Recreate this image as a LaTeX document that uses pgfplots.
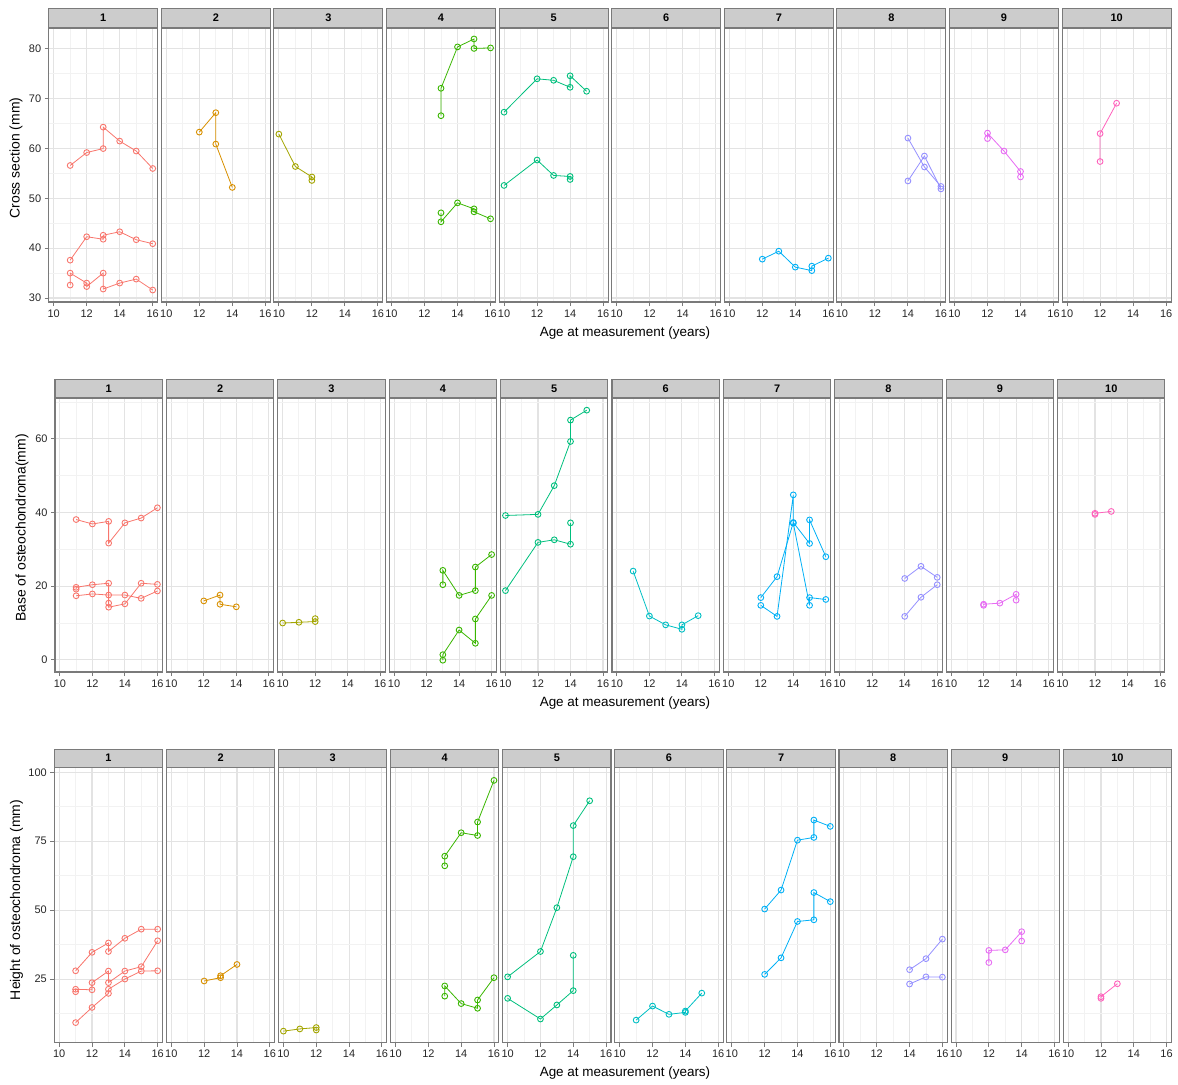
\documentclass[border=0pt]{standalone}
\usepackage{fontspec}
\setmainfont{Liberation Sans}
\usepackage{pgfplots}
\pgfplotsset{compat=1.18}
\definecolor{c1}{HTML}{F8766D}
\definecolor{c2}{HTML}{D89000}
\definecolor{c3}{HTML}{A3A500}
\definecolor{c4}{HTML}{39B600}
\definecolor{c5}{HTML}{00BF7D}
\definecolor{c6}{HTML}{00BFC4}
\definecolor{c7}{HTML}{00B0F6}
\definecolor{c8}{HTML}{9590FF}
\definecolor{c9}{HTML}{E76BF3}
\definecolor{c10}{HTML}{FF62BC}
\definecolor{bord}{HTML}{7A7A7A}
\definecolor{stripf}{HTML}{CCCCCC}
\definecolor{gmaj}{HTML}{E3E3E3}
\definecolor{gmin}{HTML}{F2F2F2}
\pgfplotsset{
  base/.style={
    scale only axis, anchor=north west,
    xmin=9.7, xmax=16.3, xtick={10,12,14,16}, minor xtick={11,13,15},
    grid=both,
    major grid style={color=gmaj, line width=1.1bp},
    minor grid style={color=gmin, line width=0.9bp},
    axis line style={color=bord, line width=1.1bp},
    tick align=outside, xtick pos=bottom, ytick pos=left,
    major tick length=4bp, minor tick length=0pt,
    tick style={color=bord, line width=0.9bp},
    /pgf/number format/assume math mode=true,
    ticklabel style={font=\fontsize{11}{12}\selectfont, text=black!85},
    every axis title/.style={at={(0.5,1)}, anchor=south, fill=stripf, draw=bord, line width=1.1bp, inner sep=0pt, font=\bfseries\fontsize{11}{13}\selectfont},
  },
  row1/.style={base, width=109bp, height=274bp, ymin=29.2, ymax=84.2, ytick={30,40,50,60,70,80}, minor ytick={35,45,55,65,75}, title style={minimum width=109bp, minimum height=19bp}},
  row2/.style={base, width=107.3bp, height=274bp, ymin=-3.3, ymax=71.1, ytick={0,20,40,60}, minor ytick={10,30,50,70}, title style={minimum width=107.3bp, minimum height=18bp}},
  row3/.style={base, width=108.3bp, height=275bp, ymin=1.9, ymax=101.7, ytick={25,50,75,100}, minor ytick={12.5,37.5,62.5,87.5}, title style={minimum width=108.3bp, minimum height=18bp}},
  noy/.style={yticklabels={}, ytick style={draw=none}},
  dat/.style={mark=o, mark size=2.9bp, line width=0.8bp, mark options={line width=0.9bp, solid}},
}
\newcommand{\pnl}[5]{\begin{axis}[#1, at={(#2bp,-#3bp)}, title={#4}]#5\end{axis}}
\begin{document}
\begin{tikzpicture}
\useasboundingbox (0,0) rectangle (1178bp,-1085bp);
% ---------- Row 1: Cross section ----------
\pnl{row1}{48.7}{28}{1}{
\addplot[dat,c1] coordinates {(11,56.6)(12,59.2)(13,60.0)(13,64.3)(14,61.5)(15,59.5)(16,56.0)};
\addplot[dat,c1] coordinates {(11,37.6)(12,42.3)(13,41.8)(13,42.6)(14,43.3)(15,41.7)(16,40.9)};
\addplot[dat,c1] coordinates {(11,32.6)(11,35.0)(12,33.0)(12,32.3)(13,35.0)(13,31.8)(14,33.0)(15,33.8)(16,31.6)};
}
\pnl{row1,noy}{161.3}{28}{2}{
\addplot[dat,c2] coordinates {(12,63.3)(13,67.2)(13,60.9)(14,52.2)};
}
\pnl{row1,noy}{273.9}{28}{3}{
\addplot[dat,c3] coordinates {(10,62.9)(11,56.4)(12,54.3)(12,53.6)};
}
\pnl{row1,noy}{386.5}{28}{4}{
\addplot[dat,c4] coordinates {(13,66.6)(13,72.1)(14,80.4)(15,82.0)(15,80.1)(16,80.2)};
\addplot[dat,c4] coordinates {(13,47.1)(13,45.3)(14,49.1)(15,47.9)(15,47.3)(16,45.9)};
}
\pnl{row1,noy}{499.1}{28}{5}{
\addplot[dat,c5] coordinates {(10,67.3)(12,74.0)(13,73.7)(14,72.3)(14,74.6)(15,71.5)};
\addplot[dat,c5] coordinates {(10,52.6)(12,57.7)(13,54.6)(14,54.4)(14,53.8)};
}
\pnl{row1,noy}{611.7}{28}{6}{}
\pnl{row1,noy}{724.3}{28}{7}{
\addplot[dat,c7] coordinates {(12,37.8)(13,39.4)(14,36.2)(15,35.5)(15,36.4)(16,38.0)};
}
\pnl{row1,noy}{836.9}{28}{8}{
\addplot[dat,c8] coordinates {(14,62.1)(15,56.3)(16,52.4)};
\addplot[dat,c8] coordinates {(14,53.5)(15,58.5)(16,51.9)};
}
\pnl{row1,noy}{949.5}{28}{9}{
\addplot[dat,c9] coordinates {(12,62.0)(12,63.1)(13,59.5)(14,55.4)(14,54.3)};
}
\pnl{row1,noy}{1062.1}{28}{10}{
\addplot[dat,c10] coordinates {(12,57.4)(12,63.0)(13,69.1)};
}
% ---------- Row 2: Base ----------
\pnl{row2}{55}{398}{1}{
\addplot[dat,c1] coordinates {(11,38.1)(12,36.9)(13,37.6)(13,31.7)(14,37.2)(15,38.5)(16,41.3)};
\addplot[dat,c1] coordinates {(11,19.2)(11,19.7)(12,20.4)(13,20.8)(13,15.4)(13,14.3)(14,15.2)(15,20.8)(16,20.5)};
\addplot[dat,c1] coordinates {(11,17.4)(12,17.9)(13,17.6)(14,17.6)(15,16.7)(16,18.7)};
}
\pnl{row2,noy}{166.4}{398}{2}{
\addplot[dat,c2] coordinates {(12,16.0)(13,17.6)(13,15.1)(14,14.4)};
}
\pnl{row2,noy}{277.8}{398}{3}{
\addplot[dat,c3] coordinates {(10,10.0)(11,10.2)(12,10.4)(12,11.2)};
}
\pnl{row2,noy}{389.2}{398}{4}{
\addplot[dat,c4] coordinates {(13,20.4)(13,24.3)(14,17.5)(15,18.8)(15,25.2)(16,28.6)};
\addplot[dat,c4] coordinates {(13,-0.1)(13,1.4)(14,8.1)(15,4.5)(15,11.1)(16,17.5)};
}
\pnl{row2,noy}{500.6}{398}{5}{
\addplot[dat,c5] coordinates {(10,39.2)(12,39.5)(13,47.3)(14,59.3)(14,65.1)(15,67.8)};
\addplot[dat,c5] coordinates {(10,18.8)(12,31.9)(13,32.6)(14,31.4)(14,37.2)};
}
\pnl{row2,noy}{612}{398}{6}{
\addplot[dat,c6] coordinates {(11,24.1)(12,11.9)(13,9.5)(14,8.3)(14,9.5)(15,12.0)};
}
\pnl{row2,noy}{723.4}{398}{7}{
\addplot[dat,c7] coordinates {(12,16.9)(13,22.6)(14,37.3)(15,31.6)(15,38.0)(16,28.0)};
\addplot[dat,c7] coordinates {(12,14.8)(13,11.8)(14,44.8)(14,37.1)(15,14.8)(15,16.9)(16,16.4)};
}
\pnl{row2,noy}{834.8}{398}{8}{
\addplot[dat,c8] coordinates {(14,22.1)(15,25.4)(16,22.4)};
\addplot[dat,c8] coordinates {(14,11.8)(15,17.0)(16,20.4)};
}
\pnl{row2,noy}{946.2}{398}{9}{
\addplot[dat,c9] coordinates {(12,14.8)(12,15.1)(13,15.4)(14,17.8)(14,16.2)};
}
\pnl{row2,noy}{1057.6}{398}{10}{
\addplot[dat,c10] coordinates {(12,39.5)(12,39.8)(13,40.3)};
}
% ---------- Row 3: Height ----------
\pnl{row3}{54.3}{767.7}{1}{
\addplot[dat,c1] coordinates {(11,28.0)(12,34.7)(13,38.1)(13,35.0)(14,39.8)(15,43.1)(16,43.1)};
\addplot[dat,c1] coordinates {(11,20.4)(11,21.3)(12,21.1)(12,23.7)(13,27.9)(13,23.7)(14,27.9)(15,29.5)(16,38.9)};
\addplot[dat,c1] coordinates {(11,9.2)(12,14.7)(13,19.8)(13,21.3)(14,25.0)(15,27.9)(16,28.0)};
}
\pnl{row3,noy}{166.4}{767.7}{2}{
\addplot[dat,c2] coordinates {(12,24.3)(13,25.5)(13,26.2)(14,30.3)};
}
\pnl{row3,noy}{278.5}{767.7}{3}{
\addplot[dat,c3] coordinates {(10,6.1)(11,6.9)(12,7.4)(12,6.5)};
}
\pnl{row3,noy}{390.6}{767.7}{4}{
\addplot[dat,c4] coordinates {(13,66.1)(13,69.6)(14,78.1)(15,77.1)(15,82.0)(16,97.1)};
\addplot[dat,c4] coordinates {(13,18.8)(13,22.5)(14,16.1)(15,14.4)(15,17.4)(16,25.5)};
}
\pnl{row3,noy}{502.7}{767.7}{5}{
\addplot[dat,c5] coordinates {(10,25.8)(12,35.0)(13,50.9)(14,69.4)(14,80.7)(15,89.7)};
\addplot[dat,c5] coordinates {(10,18.0)(12,10.5)(13,15.6)(14,20.8)(14,33.6)};
}
\pnl{row3,noy}{614.8}{767.7}{6}{
\addplot[dat,c6] coordinates {(11,10.1)(12,15.2)(13,12.2)(14,12.9)(14,13.4)(15,19.9)};
}
\pnl{row3,noy}{726.9}{767.7}{7}{
\addplot[dat,c7] coordinates {(12,50.4)(13,57.3)(14,75.4)(15,76.4)(15,82.7)(16,80.4)};
\addplot[dat,c7] coordinates {(12,26.7)(13,32.7)(14,45.9)(15,46.5)(15,56.4)(16,53.1)};
}
\pnl{row3,noy}{839}{767.7}{8}{
\addplot[dat,c8] coordinates {(14,28.4)(15,32.4)(16,39.5)};
\addplot[dat,c8] coordinates {(14,23.2)(15,25.8)(16,25.7)};
}
\pnl{row3,noy}{951.1}{767.7}{9}{
\addplot[dat,c9] coordinates {(12,31.0)(12,35.4)(13,35.6)(14,42.2)(14,38.8)};
}
\pnl{row3,noy}{1063.2}{767.7}{10}{
\addplot[dat,c10] coordinates {(12,18.0)(12,18.6)(13,23.3)};
}
% ---------- axis titles ----------
\node[font=\fontsize{13.5}{16}\selectfont] at (625bp,-333bp) {Age at measurement (years)};
\node[font=\fontsize{13.5}{16}\selectfont] at (625bp,-703bp) {Age at measurement (years)};
\node[font=\fontsize{13.5}{16}\selectfont] at (625bp,-1073bp) {Age at measurement (years)};
\node[rotate=90, font=\fontsize{14}{16}\selectfont] at (16bp,-158bp) {Cross section (mm)};
\node[rotate=90, font=\fontsize{14}{16}\selectfont] at (22bp,-528bp) {Base of osteochondroma(mm)};
\node[rotate=90, font=\fontsize{14}{16}\selectfont] at (16.5bp,-900bp) {Height of osteochondroma (mm)};
\end{tikzpicture}
\end{document}
